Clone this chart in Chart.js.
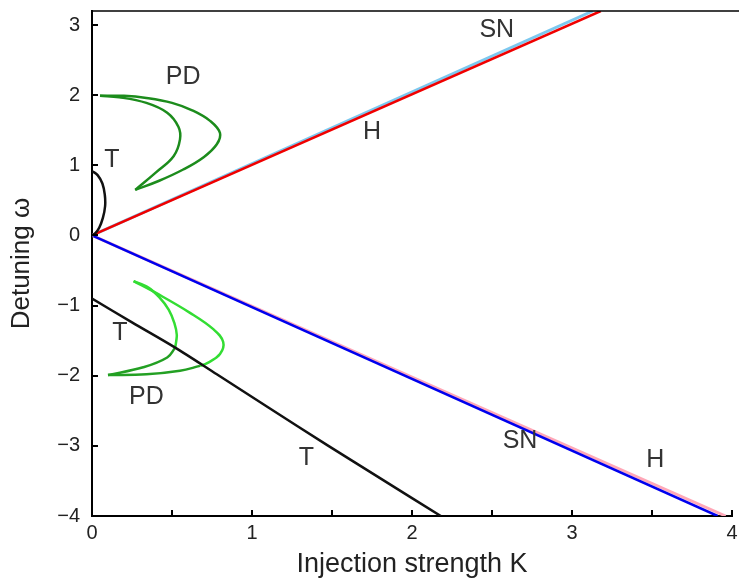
<!DOCTYPE html>
<html>
<head>
<meta charset="utf-8">
<script src="https://cdn.jsdelivr.net/npm/chart.js@4/dist/chart.umd.min.js"></script>
<style>
  html, body { margin: 0; padding: 0; background: #fff; }
  #wrap { width: 739px; height: 583px; }
</style>
</head>
<body>
<div id="wrap"><canvas id="c" width="739" height="583"></canvas></div>
<script>
// ---- Data (K, omega) pairs ----
const xTicks = [0, 0.5, 1, 1.5, 2, 2.5, 3, 3.5, 4];
const xTickLabels = ['0', '', '1', '', '2', '', '3', '', '4'];
const yTicks = [-4, -3, -2, -1, 0, 1, 2, 3];
const yTickLabels = ['\u22124', '\u22123', '\u22122', '\u22121', '0', '1', '2', '3'];

const hUpper = [[0, 0], [3.18, 3.2]];
const snUpper = [[0, 0], [3.13, 3.2]];
const snLower = [[0, 0], [3.91, -4]];
const hLower = [[0, 0], [3.96, -4]];

const tUpper = [[0, 0.92], [0.035, 0.86], [0.065, 0.74], [0.08, 0.58], [0.082, 0.42], [0.068, 0.25], [0.045, 0.11], [0.02, 0.03], [0, 0]];
const tLower = [[0, -0.9], [0.25, -1.24], [0.52, -1.6], [0.78, -1.98], [1.1, -2.45], [1.47, -2.99], [1.8, -3.46], [2.18, -4.0]];

const pdUpperOuter = [[0.05, 1.99], [0.2, 1.99], [0.34, 1.96], [0.5, 1.89], [0.63, 1.78], [0.74, 1.63], [0.8, 1.46], [0.78, 1.3], [0.7, 1.12], [0.57, 0.94], [0.42, 0.78], [0.27, 0.65]];
const pdUpperInner = [[0.05, 1.99], [0.17, 1.97], [0.34, 1.89], [0.47, 1.75], [0.54, 1.55], [0.55, 1.37], [0.51, 1.13], [0.4, 0.9], [0.27, 0.65]];

const pdLowerOuterBright = [[0.26, -0.65], [0.4, -0.82], [0.61, -1.1], [0.76, -1.34], [0.82, -1.52], [0.8, -1.69], [0.72, -1.82], [0.675, -1.86]];
const pdLowerOuterDark = [[0.675, -1.86], [0.55, -1.93], [0.34, -1.98], [0.1, -1.99]];
const pdLowerInnerBright = [[0.26, -0.65], [0.35, -0.74], [0.42, -0.88], [0.48, -1.06], [0.515, -1.25], [0.53, -1.42], [0.52, -1.6]];
const pdLowerInnerDark = [[0.52, -1.6], [0.47, -1.74], [0.32, -1.88], [0.1, -1.99]];

const labelTexts = ['PD', 'T', 'SN', 'H', 'T', 'PD', 'T', 'SN', 'H'];
const labelK = [0.57, 0.125, 2.53, 1.75, 0.175, 0.34, 1.34, 2.675, 3.52];
const labelW = [2.26, 1.08, 2.93, 1.47, -1.39, -2.3, -3.17, -2.93, -3.21];

// ---- helpers ----
const pts = arr => arr.map(p => ({ x: p[0], y: p[1] }));
const FONT = '"Liberation Sans", Arial, Helvetica, sans-serif';

function line(data, color, width, tension) {
  return {
    data: pts(data),
    showLine: true,
    borderColor: color,
    backgroundColor: color,
    borderWidth: width,
    pointRadius: 0,
    pointHoverRadius: 0,
    tension: tension || 0,
    fill: false
  };
}

function noPad(s) {
  s.paddingTop = 0; s.paddingBottom = 0; s.paddingLeft = 0; s.paddingRight = 0;
}

const frame = {
  id: 'frame',
  afterDraw(chart) {
    const ctx = chart.ctx;
    const a = chart.chartArea;
    const xs = chart.scales.x, ys = chart.scales.y;
    ctx.save();
    ctx.strokeStyle = '#000';
    ctx.lineWidth = 1.5;
    ctx.beginPath();
    ctx.moveTo(a.left, a.top);
    ctx.lineTo(chart.width, a.top);
    ctx.stroke();
    ctx.lineWidth = 2;
    ctx.beginPath();
    yTicks.forEach(v => {
      const py = Math.round(ys.getPixelForValue(v));
      ctx.moveTo(a.left, py);
      ctx.lineTo(a.left + 6, py);
    });
    xTicks.forEach(v => {
      const px = Math.round(xs.getPixelForValue(v));
      ctx.moveTo(px, a.bottom);
      ctx.lineTo(px, a.bottom - 6);
    });
    ctx.stroke();
    ctx.restore();
  },
  afterDatasetsDraw(chart) {
    const ctx = chart.ctx;
    const xs = chart.scales.x, ys = chart.scales.y;
    ctx.save();
    ctx.fillStyle = '#333';
    ctx.font = '25px ' + FONT;
    ctx.textAlign = 'center';
    ctx.textBaseline = 'middle';
    labelTexts.forEach((t, i) => {
      ctx.fillText(t, xs.getPixelForValue(labelK[i]), ys.getPixelForValue(labelW[i]));
    });
    ctx.restore();
  }
};

new Chart(document.getElementById('c'), {
  type: 'scatter',
  data: {
    datasets: [
      line(tUpper, '#111', 2.5, 0.4),
      line(tLower, '#111', 2.5, 0.3),
      line(pdUpperOuter, '#1c8c1c', 2.5, 0.4),
      line(pdUpperInner, '#1c8c1c', 2.5, 0.4),
      line(pdLowerOuterBright, '#33dd33', 2.5, 0.4),
      line(pdLowerOuterDark, '#23a023', 2.5, 0.4),
      line(pdLowerInnerBright, '#33dd33', 2.5, 0.3),
      line(pdLowerInnerDark, '#23a023', 2.5, 0.4),
      line(hUpper, '#f00000', 2.5),
      line(snUpper, '#7cc8ef', 3),
      line(snLower, '#0000ee', 2.5),
      line(hLower, '#ffa8b8', 3)
    ]
  },
  options: {
    responsive: false,
    animation: false,
    events: [],
    layout: { padding: { top: 11, right: 7, left: 0, bottom: 0 } },
    plugins: { legend: { display: false }, tooltip: { enabled: false } },
    scales: {
      x: {
        type: 'linear',
        min: 0,
        max: 4,
        afterFit(s) { s.height = 67; noPad(s); },
        afterBuildTicks(s) { s.ticks = xTicks.map(v => ({ value: v })); },
        grid: { display: false, drawTicks: false },
        border: { display: true, color: '#000', width: 2 },
        ticks: {
          autoSkip: false,
          maxRotation: 0,
          padding: 5,
          color: '#222',
          font: { family: FONT, size: 20 },
          callback: (v) => { const i = xTicks.indexOf(v); return i >= 0 ? xTickLabels[i] : ''; }
        },
        title: {
          display: true,
          text: 'Injection strength K',
          color: '#222',
          font: { family: FONT, size: 27 },
          padding: { top: 0, bottom: 2 }
        }
      },
      y: {
        type: 'linear',
        min: -4,
        max: 3.2,
        afterFit(s) { s.width = 92; noPad(s); },
        afterBuildTicks(s) { s.ticks = yTicks.map(v => ({ value: v })); },
        grid: { display: false, drawTicks: false },
        border: { display: true, color: '#000', width: 2 },
        ticks: {
          autoSkip: false,
          padding: 12,
          color: '#222',
          font: { family: FONT, size: 20 },
          callback: (v) => { const i = yTicks.indexOf(v); return i >= 0 ? yTickLabels[i] : ''; }
        },
        title: {
          display: true,
          text: 'Detuning \u03c9',
          color: '#222',
          font: { family: FONT, size: 26 },
          padding: { top: 6, bottom: 0 }
        }
      }
    }
  },
  plugins: [frame]
});
</script>
</body>
</html>
